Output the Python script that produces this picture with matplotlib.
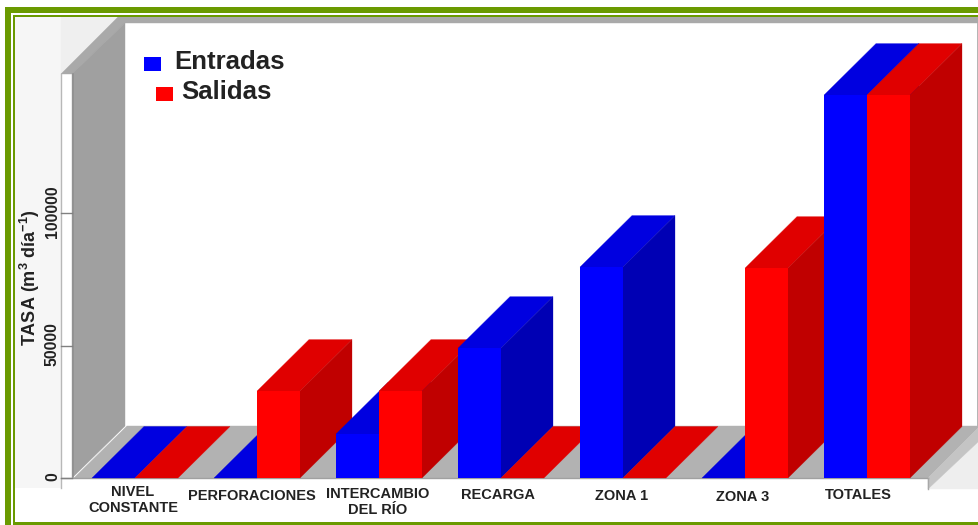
import matplotlib
matplotlib.use("Agg")
import matplotlib.pyplot as plt
from matplotlib.patches import Polygon, Rectangle

plt.rcParams['font.family'] = ['Liberation Sans', 'DejaVu Sans']
plt.rcParams['mathtext.fontset'] = 'custom'
plt.rcParams['mathtext.bf'] = 'Liberation Sans:bold'
plt.rcParams['mathtext.rm'] = 'Liberation Sans:bold'
plt.rcParams['mathtext.default'] = 'bf'

# Data
categories = ["NIVEL\nCONSTANTE", "PERFORACIONES", "INTERCAMBIO\nDEL RÍO", "RECARGA", "ZONA 1", "ZONA 3", "TOTALES"]
entradas = [0, 0, 16600, 49000, 79600, 0, 144500]
salidas = [0, 32800, 32800, 0, 0, 79200, 144500]
yticks = [0, 50000, 100000]
series_names = ["Entradas", "Salidas"]

W, H = 979, 525
fig = plt.figure(figsize=(W / 100, H / 100), dpi=100, facecolor="white")

# Pixel-space layer for the frame and the 3D box
bg = fig.add_axes([0, 0, 1, 1], zorder=0)
bg.set_xlim(0, W)
bg.set_ylim(H, 0)
bg.axis("off")

GREEN = "#6a9a00"


def poly(ax, pts, c, z=1):
    ax.add_patch(Polygon(pts, closed=True, fc=c, ec=c, lw=0.3, zorder=z))


# light surroundings
bg.add_patch(Rectangle((15, 17), 46, 471, fc="#f6f6f6", ec="none", zorder=1))
poly(bg, [(61, 74), (61, 17), (118, 17)], "#efefef")
poly(bg, [(928, 489), (979, 489), (979, 441)], "#eeeeee")
# box
poly(bg, [(61, 74), (72, 74), (125, 23), (979, 23), (979, 17), (118, 17)], "#a9a9a9", 2)
poly(bg, [(72, 74), (125, 23), (125, 426), (72, 478)], "#a0a0a0", 2)
bg.add_patch(Rectangle((977.5, 23), 1.5, 404, fc="#b5b5b5", ec="none", zorder=2))
poly(bg, [(74, 478), (127, 426), (979, 426), (979, 427), (928, 478)], "#b2b2b2", 2)
poly(bg, [(928, 478), (979, 427), (979, 441), (928, 489)], "#c4c4c4", 2)
# axis lines
bg.plot([61, 61], [74, 488], color="#b8b8b8", lw=1, zorder=3)
bg.plot([73, 73], [74, 477], color="#909090", lw=1.2, zorder=3)
bg.plot([61, 928], [478, 478], color="#a0a0a0", lw=1, zorder=3)
bg.plot([928, 928], [478, 489], color="#a8a8a8", lw=1, zorder=3)

# frame
bg.add_patch(Rectangle((5, 7), 974, 6, fc=GREEN, ec="none", zorder=5))
bg.add_patch(Rectangle((5, 7), 6, 518, fc=GREEN, ec="none", zorder=5))
bg.add_patch(Rectangle((13, 15), 966, 2, fc=GREEN, ec="none", zorder=5))
bg.add_patch(Rectangle((13, 15), 2, 510, fc=GREEN, ec="none", zorder=5))
bg.add_patch(Rectangle((13, 522), 966, 3, fc=GREEN, ec="none", zorder=5))

# Data axes over the full figure: x=i is the centre of group i
ax = fig.add_axes([0, 0, 1, 1], zorder=1)
ax.patch.set_alpha(0)
PX_X = 122.0
PX_Y = 132.5 / 50000
X0, Y0 = 135.0, 478.0
ax.set_xlim((0 - X0) / PX_X, (W - X0) / PX_X)
ax.set_ylim((Y0 - H) / PX_Y, Y0 / PX_Y)
ax.axis("off")

bw = 43 / PX_X
dx = 52 / PX_X
dy = 51.5 / PX_Y
styles = [("#0000ff", "#0000e0", "#0000b4"), ("#ff0000", "#e00000", "#c00000")]

z = 10
for i in range(len(categories)):
    for k, vals in enumerate((entradas, salidas)):
        v = vals[i]
        front, top, side = styles[k]
        x0 = i - bw if k == 0 else i
        x1 = x0 + bw
        ax.fill([x0, x1, x1 + dx, x0 + dx], [v, v, v + dy, v + dy], color=top, lw=0.2, zorder=z)
        if v > 0:
            ax.fill([x1, x1 + dx, x1 + dx, x1], [0, dy, v + dy, v], color=side, lw=0.2, zorder=z + 1)
            ax.bar(x0, v, width=bw, align="edge", color=front, lw=0, zorder=z + 2)
        z += 3

# y ticks
for t in yticks:
    y = Y0 - t * PX_Y
    bg.plot([61, 72], [y, y], color="#808080", lw=1, zorder=3)
    bg.text(52.5, y - 1, f"{t}", rotation=90, ha="center", va="center", fontsize=11.4,
            fontweight="bold", color="#222222", zorder=6)

bg.text(30, 278, r"TASA (m$^{3}$ día$^{-1}$)", rotation=90, ha="center", va="center",
        fontsize=13, fontweight="bold", color="#222222", zorder=6)

# category labels
label_x = [133, 252, 378, 498, 622, 743, 858]
label_y = [500, 496, 502, 495, 496, 497, 495]
for c, lx, ly in zip(categories, label_x, label_y):
    bg.text(lx, ly, c, ha="center", va="center", fontsize=10.55, fontweight="bold",
            color="#222222", linespacing=1.1, zorder=6)

# legend
bg.add_patch(Rectangle((144, 57), 17, 14, fc="#0000ff", ec="none", zorder=6))
bg.add_patch(Rectangle((156, 87), 17, 14, fc="#ff0000", ec="none", zorder=6))
bg.text(174, 62, series_names[0], ha="left", va="center", fontsize=18.5, fontweight="bold", color="#222222", zorder=6)
bg.text(181, 92, series_names[1], ha="left", va="center", fontsize=18.5, fontweight="bold", color="#222222", zorder=6)

fig.savefig("out.png", dpi=100)
